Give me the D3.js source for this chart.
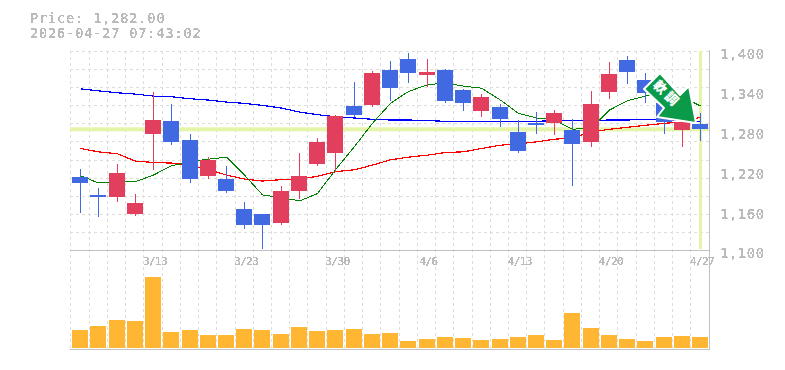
<!DOCTYPE html>
<html><head><meta charset="utf-8">
<script src="https://cdn.jsdelivr.net/npm/d3@7/dist/d3.min.js"></script>
<style>
html,body{margin:0;padding:0;background:#fff}
svg{display:block}
text{font-family:"DejaVu Sans Mono",monospace;fill:#bbb}
</style></head><body>
<svg id="c" width="785" height="370"></svg>
<script>
const dates = ["3/9","3/10","3/11","3/12","3/13","3/16","3/17","3/18","3/19","3/23","3/24","3/25","3/26","3/27","3/30","3/31","4/1","4/2","4/3","4/6","4/7","4/8","4/9","4/10","4/13","4/14","4/15","4/16","4/17","4/20","4/21","4/22","4/23","4/24","4/27"];
const xLabels = ["3/13","3/23","3/30","4/6","4/13","4/20","4/27"];
const yLabels = [1400,1340,1280,1220,1160,1100];
const opens  = [1210,1183,1180,1154,1275,1294,1266,1212,1207,1162,1154,1141,1189,1230,1246,1317,1319,1371,1388,1364,1371,1341,1310,1316,1278,1291,1291,1281,1263,1338,1386,1356,1322,1281,1290];
const highs  = [1222,1193,1230,1184,1338,1320,1275,1240,1227,1172,1154,1196,1246,1269,1304,1353,1370,1385,1397,1388,1373,1343,1335,1320,1296,1308,1311,1297,1340,1383,1392,1367,1334,1311,1307];
const lows   = [1156,1150,1172,1151,1221,1258,1201,1207,1186,1132,1102,1138,1177,1227,1218,1301,1316,1325,1352,1346,1322,1310,1301,1285,1246,1275,1273,1196,1255,1328,1350,1322,1275,1255,1264];
const closes = [1201,1180,1216,1171,1296,1263,1207,1236,1189,1138,1138,1189,1212,1263,1302,1304,1367,1344,1367,1368,1325,1322,1331,1297,1249,1288,1307,1260,1320,1365,1368,1337,1293,1293,1282];
const maShort = [1212,1201,1203,1203,1213,1227,1233,1237,1240,1213,1183,1179,1174,1185,1221,1256,1291,1321,1339,1349,1352,1347,1344,1326,1306,1299,1296,1282,1284,1311,1325,1332,1337,1331,1317];
const maMid   = [1253,1248,1245,1234,1232,1231,1228,1221,1213,1207,1204,1206,1207,1211,1218,1221,1228,1236,1240,1243,1247,1248,1253,1258,1260,1263,1267,1269,1278,1282,1285,1288,1291,1293,1300];
const maLong  = [1343,1340,1337,1335,1332,1331,1328,1326,1323,1321,1318,1314,1308,1304,1301,1299,1297,1296,1296,1295,1294,1294,1294,1294,1294,1294,1295,1295,1295,1296,1296,1297,1296,1295,1294];
const volumes = [183,223,283,273,713,163,183,133,133,193,183,143,213,173,183,193,143,153,73,93,113,103,83,93,113,133,83,353,203,133,93,73,113,123,113];
const lastPrice = 1282;
const titleLines = ["Price: 1,282.00","2026-04-27 07:43:02"];
const badgeText = "軟調";
const arrowShape = [[660,73],[644,89],[664,108],[657,117],[696,123],[689,86],[680,95]];

const svg = d3.select("#c");
const W = 709.2, L = 71;
const x = d3.scaleBand().domain(dates).range([L, W]);
const cx = d => Math.round(x(d) + x.bandwidth()/2);
const y = d3.scaleLinear().domain([1100,1400]).range([250,51]);
const v = d3.scaleLinear().domain([0,1000]).range([348,248]);
const px = n => Math.round(n) + .5;

const defs = svg.append("defs");
const f = defs.append("filter").attr("id","alias").attr("x",-.05).attr("y",-.2).attr("width",1.1).attr("height",1.4);
f.append("feComponentTransfer").append("feFuncA").attr("type","discrete").attr("tableValues","0 1 1 1");

// grid
const grid = svg.append("g").attr("stroke","#ddd").attr("stroke-dasharray","3,3").attr("shape-rendering","crispEdges");
grid.selectAll("line.v").data(dates).join("line").attr("class","v")
  .attr("x1",d=>px(x(d)-.6)).attr("x2",d=>px(x(d)-.6)).attr("y1",51).attr("y2",350);
const [y0,y1] = y.range();
grid.selectAll("line.h").data(d3.range(1,12)).join("line").attr("class","h")
  .attr("x1",70).attr("x2",710)
  .attr("y1",i=>px(y1+(y0-y1)*(i-1)/11)).attr("y2",i=>px(y1+(y0-y1)*(i-1)/11));

// highlight
svg.append("rect").attr("x",70).attr("width",640).attr("y",y(lastPrice)-2).attr("height",4).attr("fill","#E4F5A9");
svg.append("rect").attr("x",cx(dates[34])-1).attr("width",3).attr("y",51).attr("height",198).attr("fill","#E4F5A9");

// frame
const frame = svg.append("g").attr("stroke","#c0c0c0").attr("shape-rendering","crispEdges");
frame.append("line").attr("x1",70).attr("x2",710).attr("y1",250.5).attr("y2",250.5);
frame.append("line").attr("x1",70).attr("x2",710).attr("y1",349.5).attr("y2",349.5);
frame.append("line").attr("x1",709.5).attr("x2",709.5).attr("y1",50).attr("y2",350);

// moving averages
const line = d3.line().x((d,i)=>cx(dates[i])+.5).y(d=>y(d));
[[maLong,"#0000ff",1.2],[maMid,"#ff0000",1.2],[maShort,"#008000",1]].forEach(([s,c,w])=>{
  svg.append("path").attr("d",line(s)).attr("fill","none").attr("stroke",c).attr("stroke-width",w).attr("shape-rendering","crispEdges");
});

// candles
const up = "#E23F5E", down = "#4169E1";
const col = i => closes[i] >= opens[i] ? up : down;
const cg = svg.append("g").attr("shape-rendering","crispEdges");
cg.selectAll("rect.w").data(dates).join("rect").attr("class","w")
  .attr("x",d=>cx(d)).attr("width",1)
  .attr("y",(d,i)=>Math.round(y(highs[i])))
  .attr("height",(d,i)=>Math.round(y(lows[i]))-Math.round(y(highs[i])))
  .attr("fill",(d,i)=>col(i));
cg.selectAll("rect.b").data(dates).join("rect").attr("class","b")
  .attr("x",d=>cx(d)-8).attr("width",16)
  .attr("y",(d,i)=>Math.round(y(Math.max(opens[i],closes[i]))))
  .attr("height",(d,i)=>Math.round(y(Math.min(opens[i],closes[i])))-Math.round(y(Math.max(opens[i],closes[i]))))
  .attr("fill",(d,i)=>col(i));

// volume
svg.append("g").attr("shape-rendering","crispEdges").selectAll("rect").data(dates).join("rect")
  .attr("x",d=>cx(d)-8).attr("width",16)
  .attr("y",(d,i)=>v(volumes[i])).attr("height",(d,i)=>v(0)-v(volumes[i]))
  .attr("fill","#FFB733");

// axes
const yAxis = d3.axisRight(y).tickValues(yLabels).tickSize(0).tickPadding(0).tickFormat(d3.format(","));
const ay = svg.append("g").attr("transform","translate(720,1.5)").call(yAxis);
ay.select(".domain").remove();
ay.selectAll("text").attr("font-size",14).attr("letter-spacing",.5).attr("dy","0.45em").style("font-family",'"DejaVu Sans Mono",monospace').attr("fill","#bbb");
const xAxis = d3.axisBottom(x).tickValues(xLabels).tickSize(0).tickPadding(0);
const ax = svg.append("g").attr("transform","translate(2,257)").call(xAxis);
ax.select(".domain").remove();
ax.selectAll("text").attr("font-size",11).attr("letter-spacing",-.6).style("font-family",'"DejaVu Sans Mono",monospace').attr("fill","#bbb");

// title
svg.selectAll("text.t").data(titleLines).join("text").attr("class","t")
  .attr("x",30).attr("y",(d,i)=>23+i*15).attr("font-size",13.5).attr("letter-spacing",.9).text(d=>d);

// badge
svg.append("polygon").attr("points",arrowShape.map(p=>p.join(",")).join(" "))
  .attr("fill","#0A9A4A").attr("stroke","#fff").attr("stroke-width",2).attr("stroke-linejoin","round");
svg.append("text").attr("transform","translate(667,94) rotate(45)").attr("text-anchor","middle").attr("dy","0.36em")
  .style("font-family",'"Noto Sans CJK JP"').style("fill","#fff").style("font-weight",900)
  .attr("font-size",13).attr("letter-spacing",3).text(badgeText);

svg.selectAll("text.t").attr("filter","url(#alias)");
ay.selectAll("text").attr("filter","url(#alias)");
ax.selectAll("text").attr("filter","url(#alias)");
</script></body></html>
